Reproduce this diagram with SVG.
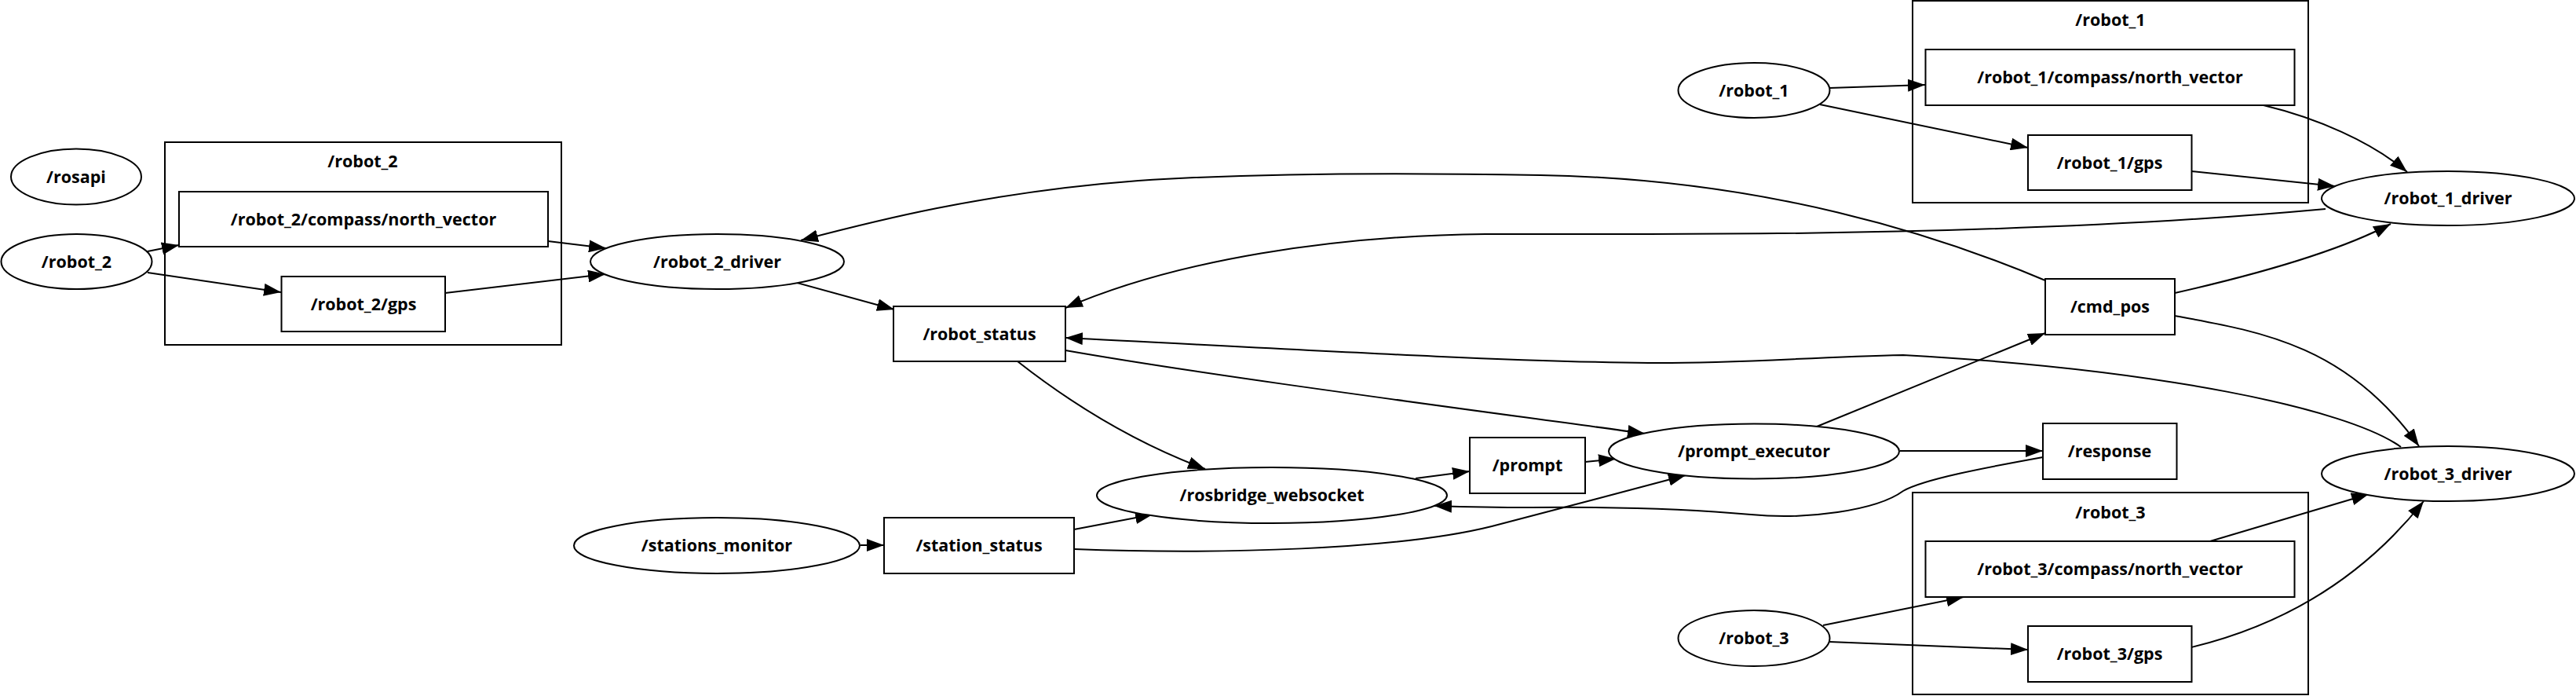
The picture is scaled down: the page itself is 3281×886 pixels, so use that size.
<svg xmlns="http://www.w3.org/2000/svg" width="3281" height="886" viewBox="0 0 3281 886">
<defs>
<marker id="ah" viewBox="0 0 22 16" markerWidth="22" markerHeight="16" refX="22" refY="8" orient="auto" markerUnits="userSpaceOnUse">
<path d="M0,0 L22,8 L0,16 z" fill="#000"/>
</marker>
</defs>
<style>
.n{fill:#fff;stroke:#000;stroke-width:2}
.c{fill:none;stroke:#000;stroke-width:2}
.t{font-family:"Open Sans","Noto Sans",sans-serif;font-weight:bold;font-size:21.5px;text-anchor:middle;fill:#000}
.e{fill:none;stroke:#000;stroke-width:2;marker-end:url(#ah)}
</style>
<rect width="3281" height="886" fill="#fff"/>
<g id="clusters">
<g id="cluster_robot_2"><rect class="c" x="210" y="181" width="505" height="258"/><text class="t" x="462" y="213">/robot_2</text></g>
<g id="cluster_robot_1"><rect class="c" x="2436" y="1" width="504" height="257"/><text class="t" x="2688" y="33">/robot_1</text></g>
<g id="cluster_robot_3"><rect class="c" x="2436" y="627" width="504" height="257"/><text class="t" x="2688" y="660">/robot_3</text></g>
</g>
<g id="edges">
<path class="e" d="M188,320 L228,312"/>
<path class="e" d="M188,347 L358,372"/>
<path class="e" d="M698,307 L772,316"/>
<path class="e" d="M567,373 L771,349"/>
<path class="e" d="M1015,360 L1139,394"/>
<path class="e" d="M1296,460 Q1412,551 1535,597"/>
<path class="e" d="M1357,446 C1550,480 1900,525 2095,552"/>
<path class="e" d="M1803,609 L1872,600"/>
<path class="e" d="M2019,588 L2058,584"/>
<path class="e" d="M1096,694 L1126,694"/>
<path class="e" d="M1368,674 L1468,655"/>
<path class="e" d="M1368,699 C1550,706 1780,700 1900,670 C1990,647 2060,628 2147,605"/>
<path class="e" d="M2602,582 C2530,595 2450,610 2424,625 C2390,650 2300,662 2230,655 C2150,648 2050,645 1950,646 C1900,646 1860,645 1827,644"/>
<path class="e" d="M2420,574 L2602,574"/>
<path class="e" d="M2314,543 L2605,424"/>
<path class="e" d="M2770,373 Q2960,330 3045,285"/>
<path class="e" d="M2770,402 C2880,422 2990,440 3081,568"/>
<path class="e" d="M2883,134 C2950,150 3020,180 3066,219"/>
<path class="e" d="M2791,218 L2974,237"/>
<path class="e" d="M2962,266 C2700,290 2400,298 2100,298 L1892,298 C1700,300 1500,330 1357,392"/>
<path class="e" d="M3058,569 C2990,520 2750,470 2424,452 C2300,455 2200,463 2100,462 C1900,460 1600,442 1357,430"/>
<path class="e" d="M2605,357 C2470,300 2250,228 1962,223 C1800,220 1600,220 1450,230 C1250,245 1100,285 1020,306"/>
<path class="e" d="M2330,112 L2452,108"/>
<path class="e" d="M2318,133 L2583,188"/>
<path class="e" d="M2322,796 L2501,760"/>
<path class="e" d="M2330,817 L2583,827"/>
<path class="e" d="M2815,689 L3017,629"/>
<path class="e" d="M2791,824 C2870,805 2990,760 3087,638"/>
</g>
<g id="n_rosapi"><ellipse class="n" cx="97" cy="225" rx="83" ry="35.5"/><text class="t" x="97" y="232.5">/rosapi</text></g>
<g id="n_robot_2"><ellipse class="n" cx="97.5" cy="333" rx="96" ry="35"/><text class="t" x="97.5" y="340.5">/robot_2</text></g>
<g id="t_robot_2_compass"><rect class="n" x="228" y="244" width="470" height="70"/><text class="t" x="463" y="286.5">/robot_2/compass/north_vector</text></g>
<g id="t_robot_2_gps"><rect class="n" x="358.5" y="352" width="208.5" height="70"/><text class="t" x="463" y="394.5">/robot_2/gps</text></g>
<g id="n_robot_2_driver"><ellipse class="n" cx="913.5" cy="333" rx="161.5" ry="35"/><text class="t" x="913.5" y="340.5">/robot_2_driver</text></g>
<g id="t_robot_status"><rect class="n" x="1138" y="390" width="219" height="70"/><text class="t" x="1247.5" y="432.5">/robot_status</text></g>
<g id="n_rosbridge_websocket"><ellipse class="n" cx="1620" cy="630.5" rx="223" ry="35.5"/><text class="t" x="1620" y="638">/rosbridge_websocket</text></g>
<g id="t_prompt"><rect class="n" x="1872" y="557" width="147" height="71"/><text class="t" x="1945.5" y="600">/prompt</text></g>
<g id="n_stations_monitor"><ellipse class="n" cx="913" cy="694.5" rx="182" ry="35.5"/><text class="t" x="913" y="702">/stations_monitor</text></g>
<g id="t_station_status"><rect class="n" x="1126" y="659" width="242" height="71"/><text class="t" x="1247" y="702">/station_status</text></g>
<g id="n_prompt_executor"><ellipse class="n" cx="2234" cy="574.5" rx="185" ry="35"/><text class="t" x="2234" y="582">/prompt_executor</text></g>
<g id="t_response"><rect class="n" x="2602" y="539" width="170.5" height="71"/><text class="t" x="2687" y="582">/response</text></g>
<g id="t_cmd_pos"><rect class="n" x="2605" y="355" width="165" height="71"/><text class="t" x="2687.5" y="398">/cmd_pos</text></g>
<g id="n_robot_1"><ellipse class="n" cx="2234" cy="115" rx="96.5" ry="35"/><text class="t" x="2234" y="122.5">/robot_1</text></g>
<g id="t_robot_1_compass"><rect class="n" x="2452.5" y="63" width="470" height="71"/><text class="t" x="2687.5" y="106">/robot_1/compass/north_vector</text></g>
<g id="t_robot_1_gps"><rect class="n" x="2583" y="172" width="208.5" height="70"/><text class="t" x="2687" y="214.5">/robot_1/gps</text></g>
<g id="n_robot_1_driver"><ellipse class="n" cx="3118" cy="252.5" rx="161" ry="34.5"/><text class="t" x="3118" y="260">/robot_1_driver</text></g>
<g id="n_robot_3_driver"><ellipse class="n" cx="3118" cy="603" rx="161" ry="35"/><text class="t" x="3118" y="610.5">/robot_3_driver</text></g>
<g id="n_robot_3"><ellipse class="n" cx="2234" cy="812.5" rx="96.5" ry="35.5"/><text class="t" x="2234" y="820">/robot_3</text></g>
<g id="t_robot_3_compass"><rect class="n" x="2452.5" y="689" width="470" height="71"/><text class="t" x="2687.5" y="732">/robot_3/compass/north_vector</text></g>
<g id="t_robot_3_gps"><rect class="n" x="2583" y="797" width="208.5" height="71"/><text class="t" x="2687" y="840">/robot_3/gps</text></g>
</svg>
